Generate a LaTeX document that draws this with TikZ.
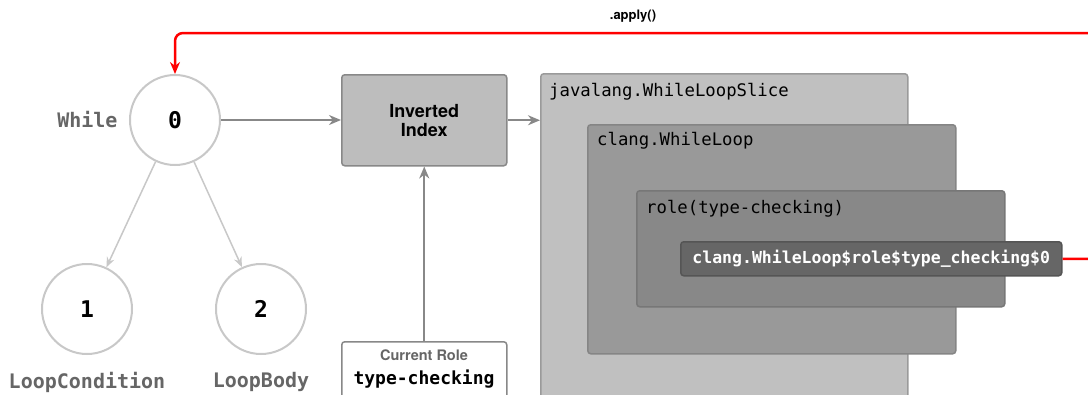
\documentclass[tikz,border=0pt]{standalone}
\usepackage{fontspec}
\setmonofont{DejaVu Sans Mono}
\setsansfont{TeX Gyre Heros}
\usetikzlibrary{arrows.meta}
\definecolor{cgray}{HTML}{C8C8C8}
\definecolor{agray}{HTML}{888888}
\definecolor{lgray}{HTML}{666666}
\definecolor{fA}{HTML}{C0C0C0}
\definecolor{fB}{HTML}{999999}
\definecolor{fC}{HTML}{888888}
\definecolor{fD}{HTML}{666666}
\definecolor{bA}{HTML}{9A9A9A}
\definecolor{bB}{HTML}{858585}
\definecolor{bC}{HTML}{777777}
\definecolor{bD}{HTML}{555555}
\definecolor{fI}{HTML}{BDBDBD}
\definecolor{redline}{HTML}{FF0000}
\tikzset{
  treenode/.style={circle, draw=cgray, line width=2pt, fill=white, minimum size=90pt, inner sep=0pt,
    font=\fontsize{23}{26}\selectfont\ttfamily\bfseries},
  treelabel/.style={text=lgray, font=\fontsize{20}{24}\selectfont\ttfamily\bfseries},
  treeedge/.style={draw=cgray, line width=1.5pt, -{Stealth[length=10pt,width=8pt]}},
  grayarrow/.style={draw=agray, line width=2.3pt, -{Stealth[length=12pt,width=10pt]}},
  redarrow/.style={draw=redline, line width=2.5pt, rounded corners=8pt, -{Stealth[length=12pt,width=10pt]}},
  boxbase/.style={anchor=north west, rounded corners=3pt, line width=1.5pt, inner sep=0pt},
  boxtitle/.style={anchor=west, inner sep=0pt, text=black, font=\fontsize{17.3}{20}\selectfont\ttfamily},
}
\begin{document}
\begin{tikzpicture}[x=1pt,y=-1pt]
\clip (0,0) rectangle (1088,394);
\fill[white] (0,0) rectangle (1088,394);

% tree
\node[treenode] (c0) at (175,120) {0};
\node[treenode] (c1) at (87,309) {1};
\node[treenode] (c2) at (261,309) {2};
\node[treelabel, anchor=east] (lw) at (121,120) {While};
\node[treelabel] (lc) at (87,382) {LoopCondition};
\node[treelabel] (lb) at (261,382) {LoopBody};
\draw[treeedge] (c0) -- (c1);
\draw[treeedge] (c0) -- (c2);

% inverted index
\node[boxbase, draw=agray, fill=fI, minimum width=165pt, minimum height=91pt] (inv) at (341,74) {};
\node[inner sep=0pt, align=center, font=\fontsize{18}{19}\selectfont\sffamily\bfseries] (invt) at (inv.center) {Inverted\\Index};

% current role
\node[boxbase, draw=agray, fill=white, minimum width=165pt, minimum height=60pt] (cr) at (341,341) {};
\node[inner sep=0pt, text=lgray, font=\fontsize{14.5}{16}\selectfont\sffamily\bfseries] (crt) at (424,355) {Current Role};
\node[inner sep=0pt, font=\fontsize{18}{20}\selectfont\ttfamily\bfseries] (crv) at (424,379) {type-checking};

% nested boxes
\node[boxbase, draw=bA, fill=fA, minimum width=367pt, minimum height=340pt] (jv) at (540,73) {};
\node[boxtitle] (jvt) at (549,92) {javalang.WhileLoopSlice};
\node[boxbase, draw=bB, fill=fB, minimum width=368pt, minimum height=229pt] (cl) at (587,124) {};
\node[boxtitle] (clt) at (597,141) {clang.WhileLoop};
\node[boxbase, draw=bC, fill=fC, minimum width=368pt, minimum height=116pt] (rl) at (636,190) {};
\node[boxtitle] (rlt) at (646,209) {role(type-checking)};
\node[boxbase, draw=bD, fill=fD, minimum width=381pt, minimum height=34pt] (dk) at (680,241) {};
\node[inner sep=0pt, text=white, font=\fontsize{16.5}{19}\selectfont\ttfamily\bfseries] (dkt) at (dk.center) {clang.WhileLoop\$role\$type\_checking\$0};

% connectors
\draw[grayarrow] (c0.east) -- (inv.west |- c0.east);
\draw[grayarrow] (inv.east) -- (jv.west |- inv.east);
\draw[grayarrow] (cr.north) -- (inv.south);

\coordinate (far) at (1115,33);
\draw[redarrow] (dk.east) -| (far) -| (c0.north);
\node[inner sep=0pt, font=\fontsize{13}{15}\selectfont\sffamily\bfseries] (ap) at (633,16) {.apply()};
\end{tikzpicture}
\end{document}
